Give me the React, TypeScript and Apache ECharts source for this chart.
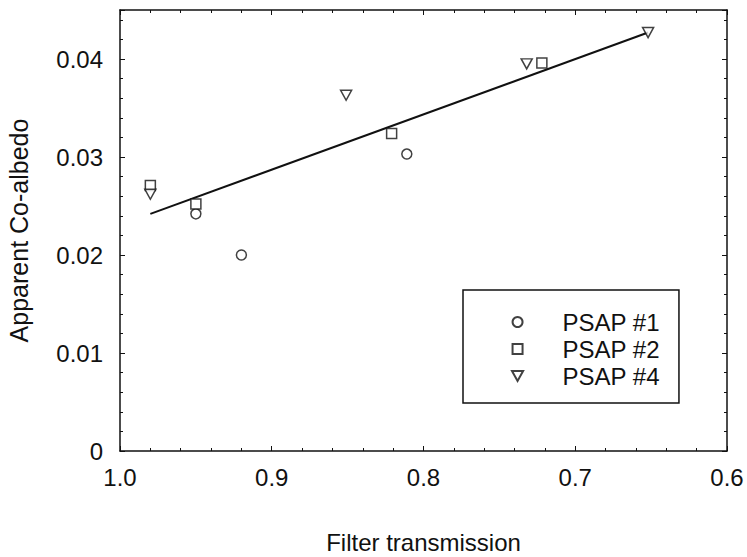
import React, { useEffect, useRef } from "react";
import * as echarts from "echarts";

// Filter transmission (x) vs apparent co-albedo (y) for each PSAP instrument
const psap1: [number, number][] = [
  [0.95, 0.0242],
  [0.92, 0.02],
  [0.811, 0.0303],
];
const psap2: [number, number][] = [
  [0.98, 0.0271],
  [0.95, 0.0252],
  [0.821, 0.0324],
  [0.722, 0.0396],
];
const psap4: [number, number][] = [
  [0.98, 0.0262],
  [0.851, 0.0363],
  [0.732, 0.0395],
  [0.652, 0.0427],
];
// End points of the fitted straight line
const fitLine: [number, number][] = [
  [0.98, 0.0242],
  [0.652, 0.0427],
];

const seriesNames = ["PSAP #1", "PSAP #2", "PSAP #4"];
const xTicks = [1.0, 0.9, 0.8, 0.7, 0.6];
const yTicks = [0, 0.01, 0.02, 0.03, 0.04];

const FONT = "Liberation Sans, Arial, Helvetica, sans-serif";
const INK = "#111";
const SQUARE = "path://M0,0 L10,0 L10,10 L0,10 Z";
const TRI_DOWN = "path://M0,0 L10,0 L5,9 Z";

export default function App() {
  const ref = useRef<HTMLDivElement>(null);

  useEffect(() => {
    if (!ref.current) return;
    const chart = echarts.init(ref.current, undefined, { renderer: "svg" });

    const markerStyle = {
      color: "#fff",
      borderColor: INK,
      borderWidth: 1.5,
    };

    const frameAxis = {
      axisLine: { show: true, onZero: false, lineStyle: { color: INK, width: 1.5 } },
      axisTick: { show: true, inside: true, length: 5, lineStyle: { color: INK, width: 1 } },
      minorTick: { show: true, splitNumber: 5, length: 3, lineStyle: { color: INK, width: 1 } },
      splitLine: { show: false },
    };

    chart.setOption({
      animation: false,
      backgroundColor: "#fff",
      grid: {
        left: 120,
        right: 20,
        top: 10,
        bottom: 106,
        containLabel: false,
        outerBoundsMode: "none",
      },
      xAxis: [
        {
          type: "value",
          min: 0.6,
          max: 1.0,
          interval: 0.1,
          inverse: true,
          position: "bottom",
          name: "Filter transmission",
          nameLocation: "middle",
          nameGap: 79,
          nameTextStyle: { fontFamily: FONT, fontSize: 24, lineHeight: 24, color: INK },
          ...frameAxis,
          axisLabel: {
            margin: 14,
            fontFamily: FONT,
            fontSize: 24,
            color: INK,
            customValues: xTicks,
            formatter: (v: number) => v.toFixed(1),
          },
        },
        {
          type: "value",
          min: 0.6,
          max: 1.0,
          interval: 0.1,
          inverse: true,
          position: "top",
          ...frameAxis,
          axisLabel: { show: false },
        },
      ],
      yAxis: [
        {
          type: "value",
          min: 0,
          max: 0.045,
          interval: 0.01,
          position: "left",
          name: "Apparent Co-albedo",
          nameLocation: "middle",
          nameGap: 89,
          nameTextStyle: { fontFamily: FONT, fontSize: 25, color: INK },
          ...frameAxis,
          axisLabel: {
            margin: 17,
            fontFamily: FONT,
            fontSize: 24,
            color: INK,
            customValues: yTicks,
            formatter: (v: number) => (v === 0 ? "0" : v.toFixed(2)),
          },
        },
        {
          type: "value",
          min: 0,
          max: 0.045,
          interval: 0.01,
          position: "right",
          ...frameAxis,
          axisLabel: { show: false },
        },
      ],
      legend: {
        data: seriesNames,
        orient: "vertical",
        left: 463,
        top: 290,
        padding: [20, 19, 15, 48],
        itemWidth: 14,
        itemHeight: 10,
        itemGap: 3,
        borderColor: INK,
        borderWidth: 1.5,
        borderRadius: 0,
        backgroundColor: "#fff",
        textStyle: {
          fontFamily: FONT,
          fontSize: 24,
          lineHeight: 24,
          color: INK,
          padding: [0, 0, 0, 33],
        },
        selectedMode: false,
      },
      series: [
        {
          name: "fit",
          type: "line",
          data: fitLine,
          symbol: "none",
          lineStyle: { color: INK, width: 2 },
          z: 1,
        },
        {
          name: seriesNames[0],
          type: "scatter",
          data: psap1,
          symbol: "circle",
          symbolSize: 10,
          itemStyle: markerStyle,
          z: 3,
        },
        {
          name: seriesNames[1],
          type: "scatter",
          data: psap2,
          symbol: SQUARE,
          symbolSize: 10,
          itemStyle: markerStyle,
          z: 3,
        },
        {
          name: seriesNames[2],
          type: "scatter",
          data: psap4,
          symbol: TRI_DOWN,
          symbolSize: [11, 10],
          itemStyle: markerStyle,
          z: 4,
        },
      ],
    });

    return () => chart.dispose();
  }, []);

  return (
    <div
      ref={ref}
      style={{ position: "fixed", left: 0, top: 0, width: 747, height: 557, background: "#fff" }}
    />
  );
}
